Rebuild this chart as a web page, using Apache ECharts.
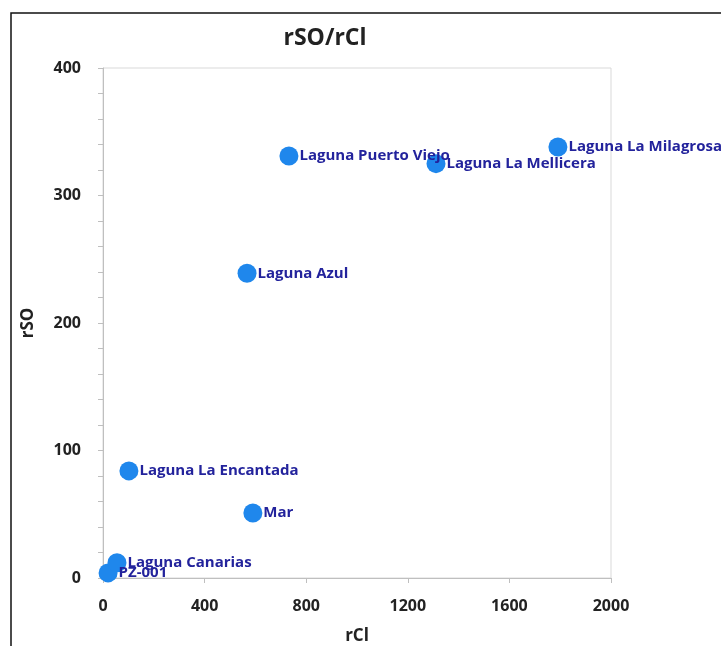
<!DOCTYPE html>
<html>
<head>
<meta charset="utf-8">
<script src="https://cdn.jsdelivr.net/npm/echarts@6/dist/echarts.min.js"></script>
<style>
html,body{margin:0;padding:0;background:#fff;}
#c{width:721px;height:646px;}
</style>
</head>
<body>
<div id="c"></div>
<script>
const names = ["PZ-001","Laguna Canarias","Laguna La Encantada","Mar","Laguna Azul","Laguna Puerto Viejo","Laguna La Mellicera","Laguna La Milagrosa"];
const rCl = [20, 55, 102, 590, 567, 732, 1311, 1791];
const rSO = [4, 12, 84, 51, 239, 331, 325, 338];
const xTicks = [0, 400, 800, 1200, 1600, 2000];
const yTicks = [0, 100, 200, 300, 400];

const fontFam = "'Open Sans',sans-serif";
const chart = echarts.init(document.getElementById('c'));
const data = names.map((n,i)=>({name:n, value:[rCl[i], rSO[i]]}));
chart.setOption({
  animation:false,
  backgroundColor:'#fff',
  title:{text:'rSO/rCl', left:320, top:22, textAlign:'center',
    textStyle:{fontFamily:fontFam, fontSize:23, fontWeight:'bold', color:'#222'}},
  graphic:[{type:'rect', shape:{x:11, y:13, width:720, height:640},
    style:{fill:'none', stroke:'#111', lineWidth:1.5}, silent:true, z:-1}],
  grid:{left:103, right:110, top:68, bottom:68, outerBoundsMode:'none', containLabel:false,
    show:true, borderColor:'#d9d9d9', borderWidth:1, backgroundColor:'transparent'},
  xAxis:{type:'value', min:xTicks[0], max:xTicks[xTicks.length-1], interval:400,
    name:'rCl', nameLocation:'middle', nameGap:50,
    nameTextStyle:{fontFamily:fontFam, fontSize:17, fontWeight:'bold', color:'#222'},
    axisLine:{show:true, lineStyle:{color:'#bfbfbf'}},
    axisTick:{show:true, length:5, lineStyle:{color:'#bfbfbf'}},
    axisLabel:{fontFamily:fontFam, fontSize:16, fontWeight:'bold', color:'#222', margin:20,
      formatter: v => String(v)},
    splitLine:{show:false}},
  yAxis:{type:'value', min:yTicks[0], max:yTicks[yTicks.length-1], interval:100,
    name:'rSO', nameLocation:'middle', nameGap:66, nameRotate:90,
    nameTextStyle:{fontFamily:fontFam, fontSize:17, fontWeight:'bold', color:'#222'},
    axisLine:{show:true, lineStyle:{color:'#bfbfbf'}},
    axisTick:{show:true, length:5, lineStyle:{color:'#bfbfbf'}},
    minorTick:{show:true, splitNumber:5, length:5, lineStyle:{color:'#bfbfbf'}},
    axisLabel:{fontFamily:fontFam, fontSize:16, fontWeight:'bold', color:'#222', margin:22},
    splitLine:{show:false}},
  series:[{type:'scatter', data:data, symbolSize:19,
    itemStyle:{color:'#1f87ec', opacity:1},
    label:{show:true, position:'right', distance:1, formatter:'{b}',
      fontFamily:fontFam, fontSize:15, fontWeight:'bold', color:'#23239c'}}]
});
</script>
</body>
</html>
